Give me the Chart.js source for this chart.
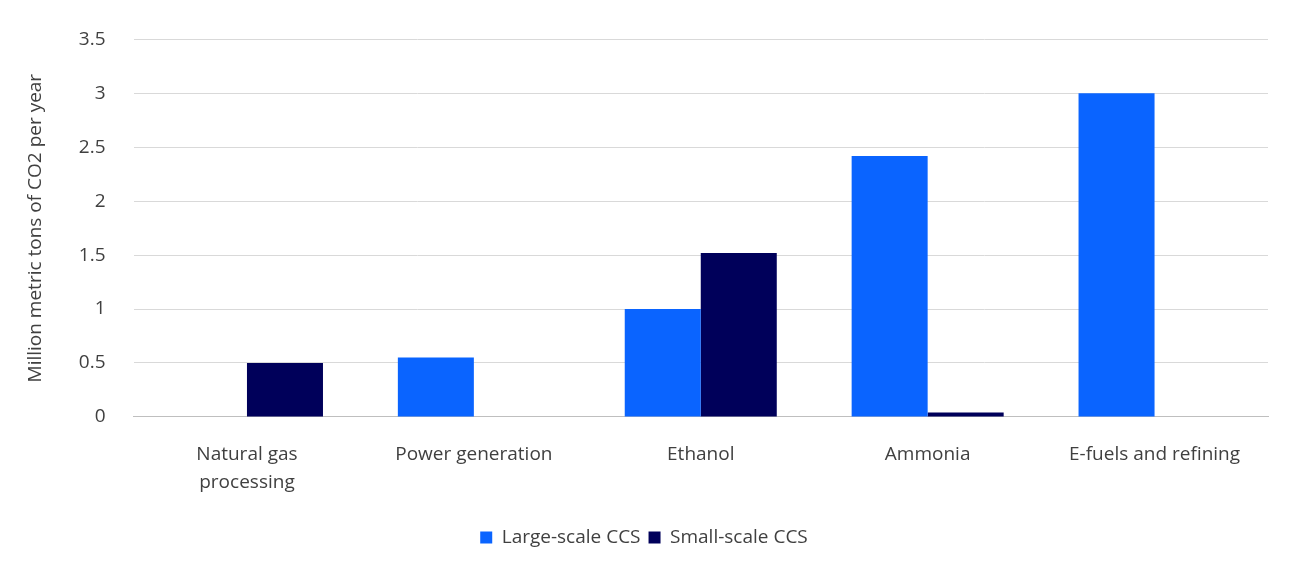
<!DOCTYPE html>
<html><head><meta charset="utf-8">
<script src="https://cdn.jsdelivr.net/npm/chart.js@4/dist/chart.umd.min.js"></script>
<style>html,body{margin:0;padding:0;background:#fff}#w{width:1300px;height:571px}</style>
</head><body><div id="w"><canvas id="c"></canvas></div>
<script>
const categories = [["Natural gas","processing"],"Power generation","Ethanol","Ammonia","E-fuels and refining"];
const largeScale = [0, 0.55, 1.0, 2.42, 3.0];
const smallScale = [0.5, 0, 1.52, 0.04, 0];
const yTicks = [0, 0.5, 1, 1.5, 2, 2.5, 3, 3.5];
const font = "'Open Sans', 'Noto Sans', sans-serif";
Chart.defaults.font.family = font;
Chart.defaults.color = '#404040';
new Chart(document.getElementById('c'), {
  type: 'bar',
  data: { labels: categories, datasets: [
    { label: 'Large-scale CCS', data: largeScale, backgroundColor: '#0a64ff' },
    { label: 'Small-scale CCS', data: smallScale, backgroundColor: '#00005a' }
  ]},
  options: {
    responsive: true, maintainAspectRatio: false, animation: false,
    layout: { padding: { left: 20, right: 32, top: 2, bottom: 14 } },
    categoryPercentage: 0.67, barPercentage: 1,
    plugins: {
      legend: { position: 'bottom', labels: { boxWidth: 12, boxHeight: 12, font: { size: 19 }, padding: 8 } },
      tooltip: { enabled: false }
    },
    scales: {
      x: { grid: { display: false, drawTicks: false }, border: { color: '#bfbfbf' },
           ticks: { font: { size: 19, lineHeight: 1.45 }, padding: 24 } },
      y: { min: 0, max: 3.5, afterBuildTicks: a => { a.ticks = yTicks.map(v => ({ value: v })); },
           grid: { color: '#d9d9d9', drawTicks: false }, border: { display: false },
           ticks: { font: { size: 19 }, padding: 28, callback: v => String(v) },
           title: { display: true, text: 'Million metric tons of CO2 per year', font: { size: 19 }, padding: 4 } }
    }
  }
});
</script></body></html>
